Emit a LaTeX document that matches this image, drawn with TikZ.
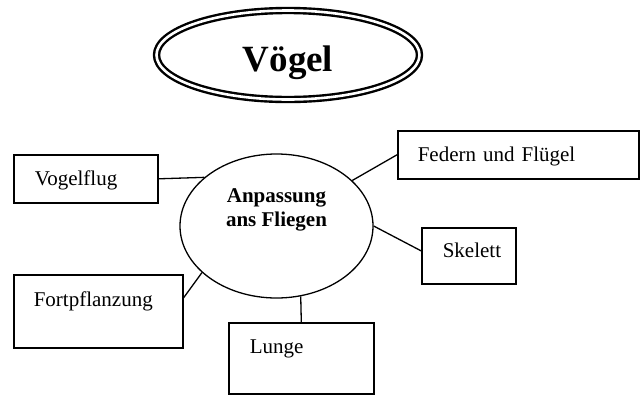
\documentclass[tikz,border=0pt]{standalone}
\usepackage{fontspec}
\setmainfont{Liberation Serif}
\usetikzlibrary{shapes.geometric}

\begin{document}
\begin{tikzpicture}[x=1pt,y=-1pt,
    box/.style={draw, line width=1.6pt, anchor=north west, align=left,
        inner ysep=0pt, font=\fontsize{21}{24}\selectfont},
    link/.style={line width=1.3pt}]
    \useasboundingbox (0,0) rectangle (644,394);
    % title
    \node[draw, ellipse, double, line width=2.4pt, double distance=2.6pt,
        minimum width=263pt, minimum height=89pt, inner sep=0pt,
        text height=36pt, text depth=4pt,
        font=\fontsize{37}{40}\selectfont\bfseries] (title) at (288,55) {Vögel};
    % ellipse in the middle
    \node[draw, ellipse, line width=1.3pt, minimum width=193pt,
        minimum height=144pt, inner sep=0pt] (hub) at (276.5,226) {};
    \node[align=center, font=\fontsize{21}{24}\selectfont\bfseries]
        (hubtext) at ([yshift=16pt]hub.center) {Anpassung\\ans Fliegen};
    % boxes
    \node[box, inner xsep=21pt, text width=102pt, text height=31pt, text depth=17pt]
        (vogel) at (13,154) {Vogelflug};
    \node[box, inner xsep=20pt, text width=201pt, text height=31pt, text depth=17pt]
        (feder) at (397,130) {Federn und Flügel};
    \node[box, inner xsep=21pt, text width=52pt, text height=30pt, text depth=26pt]
        (skel) at (421,227) {Skelett};
    \node[box, inner xsep=20pt, text width=129pt, text height=32pt, text depth=41pt]
        (fort) at (13,274) {Fortpflanzung};
    \node[box, inner xsep=21pt, text width=103pt, text height=31pt, text depth=40pt]
        (lunge) at (228,322) {Lunge};
    % lines to the ellipse
    \draw[link] (vogel.east) -- (hub.146.3);
    \draw[link] (feder.west) -- (hub.31.8);
    \draw[link] ([yshift=5pt]skel.west) -- (hub.east);
    \draw[link] ([yshift=13.5pt]fort.east) -- (hub.212.6);
    \draw[link] (lunge.north) -- (hub.289.4);
\end{tikzpicture}
\end{document}
